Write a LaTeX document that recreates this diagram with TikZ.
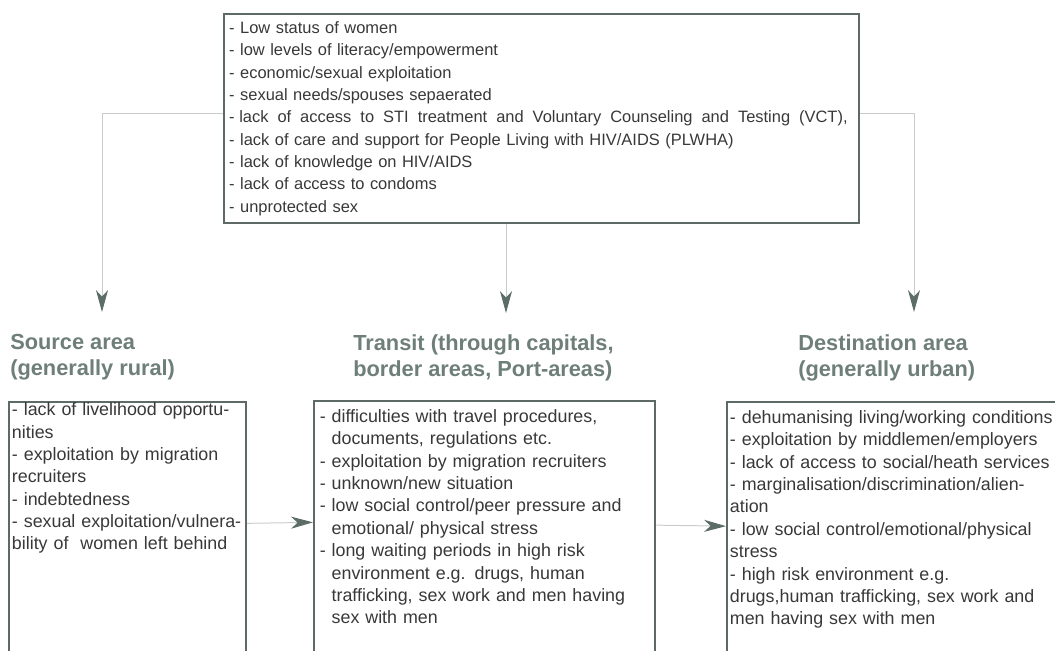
\documentclass[tikz,border=0pt]{standalone}
\usepackage{fontspec}
\setmainfont{Liberation Sans}
\usepackage{xcolor}
\usepackage{tikz}
\usetikzlibrary{arrows.meta,positioning}
\definecolor{boxline}{HTML}{5E6A66}
\definecolor{linkgray}{HTML}{C8CCCB}
\definecolor{tipgray}{HTML}{5C6C67}
\definecolor{headtext}{HTML}{6E7E79}
\definecolor{bodytext}{HTML}{383838}
\tikzset{
  factors/.style={draw=boxline,line width=1.6pt,text=bodytext,align=left,
    font=\fontsize{12.7pt}{15.9pt}\selectfont,inner xsep=2pt,inner ysep=5pt},
  areabox/.style={factors,anchor=north west,text depth=7.5cm},
  areahead/.style={text=headtext,align=left,anchor=north west,inner sep=0pt,
    font=\bfseries\fontsize{15.5pt}{18.5pt}\selectfont},
  flow/.style={linkgray,line width=0.7pt,
    -{Stealth[length=15.5pt,width=8.5pt,inset=4.5pt,color=tipgray]}}
}

\begin{document}
\begin{tikzpicture}[x=0.025cm,y=-0.025cm]
  \useasboundingbox (0,0) rectangle (1055,651);
  \clip (0,0) rectangle (1055,651);
  % common risk factors
  \node[factors,anchor=north west,text width=15.62cm,inner xsep=3.5pt,
    font=\fontsize{11.7pt}{15.9pt}\selectfont,
    minimum width=15.875cm,minimum height=5.225cm] (risks) at (223,13) {%
    - Low status of women\\
    - low levels of literacy/empowerment\\
    - economic/sexual exploitation\\
    - sexual needs/spouses sepaerated\\
    {\spaceskip=6.4pt\relax-\kern3.25pt lack of access to STI treatment and Voluntary Counseling and Testing (VCT),}\\
    - lack of care and support for People Living with HIV/AIDS (PLWHA)\\
    - lack of knowledge on HIV/AIDS\\
    - lack of access to condoms\\
    - unprotected sex};
  % area headings
  \node[areahead] (srchead) at (10,334) {Source area\\(generally rural)};
  \node[areahead] (trhead) at (353,334) {Transit (through capitals,\\border areas, Port-areas)};
  \node[areahead] (dsthead) at (798,334) {Destination area\\(generally urban)};
  % area boxes, cut off at the bottom
  \node[areabox,text width=5.78cm,inner ysep=0.5pt] (srcbox) at (8,401) {%
    - lack of livelihood opportu-\\
    nities\\
    - exploitation by migration\\
    recruiters\\
    - indebtedness\\
    - sexual exploitation/vulnera-\\
    bility of \ women left behind};
  \node[areabox,text width=8.245cm,inner xsep=4pt,inner ysep=6pt] (trbox) at (313,400) {%
    - difficulties with travel procedures,\\
    \hphantom{- }documents, regulations etc.\\
    - exploitation by migration recruiters\\
    - unknown/new situation\\
    - low social control/peer pressure and\\
    \hphantom{- }emotional/ physical stress\\
    - long waiting periods in high risk\\
    \hphantom{- }environment e.g. drugs, human\\
    \hphantom{- }trafficking, sex work and men having\\
    \hphantom{- }sex with men};
  \node[areabox,text width=8.3cm,inner ysep=6pt] (dstbox) at (726,401) {%
    - dehumanising living/working conditions\\
    - exploitation by middlemen/employers\\
    - lack of access to social/heath services\\
    - marginalisation/discrimination/alien-\\
    ation\\
    - low social control/emotional/physical\\
    stress\\
    - high risk environment e.g.\\
    drugs,human trafficking, sex work and\\
    men having sex with men};
  % connectors
  \coordinate (srcin) at (102,312);
  \coordinate (trin) at (506,313);
  \coordinate (dstin) at (914,312);
  \draw[flow] ([yshift=4pt]risks.west) -| (srcin);
  \draw[flow] (risks.south -| trin) -- (trin);
  \draw[flow] ([yshift=4pt]risks.east) -| (dstin);
  \draw[flow] ([yshift=-87pt]srcbox.north east) -- ([yshift=-87pt]trbox.north west);
  \draw[flow] ([yshift=-89pt]trbox.north east) -- ([yshift=-89pt]dstbox.north west);
\end{tikzpicture}
\end{document}
